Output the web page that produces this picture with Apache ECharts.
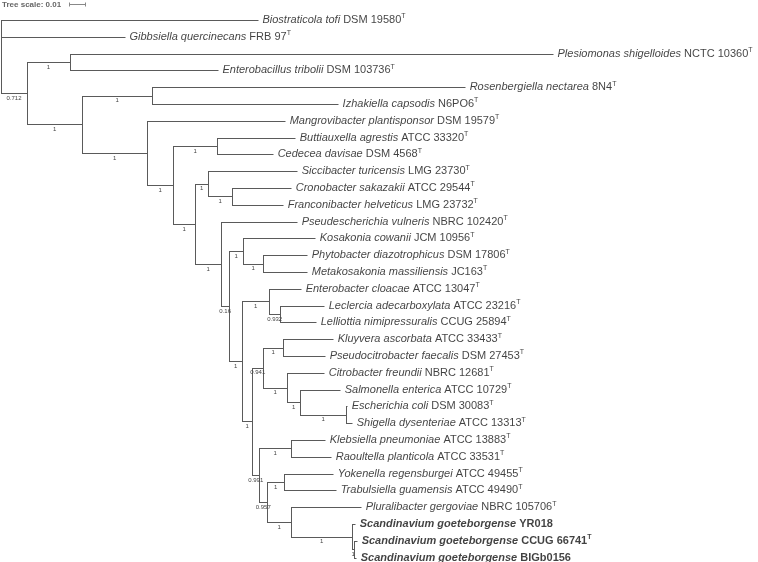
<!DOCTYPE html>
<html><head><meta charset="utf-8">
<script src="https://cdn.jsdelivr.net/npm/echarts@6/dist/echarts.min.js"></script>
<style>html,body{margin:0;padding:0;background:#fff}#c{width:758px;height:562px}</style>
</head><body><div id="c"></div>
<script>
// Tree topology (DFS order), branch lengths (substitutions/site) and support values
const nodeIds = ['root','bio','gib','A','B','ple','ebc','C','D','ros','izh','E','man','F','G','but','ced','H','I','sic','K','cro','fra','J','pse','L','M','kos','PM','phy','met','N','O','ent','LL','lec','lel','P','Q','Kl','klu','pct','Ci','cit','Sa','sal','Es','esc','shi','R','S','kle','rao','T','U','yok','tra','V','plu','W','yr','X','ccug','big'];
const nodeParents = [null,'root','root','root','A','B','B','A','C','D','D','C','E','E','F','G','G','F','H','I','I','K','K','H','J','J','L','M','M','PM','PM','L','N','O','O','LL','LL','N','P','Q','Kl','Kl','Q','Ci','Ci','Sa','Sa','Es','Es','P','R','S','S','R','T','U','U','T','V','V','W','W','X','X'];
const branchLengths = [0,0.1606,0.0775,0.0163,0.0268,0.3019,0.0925,0.0344,0.0438,0.1956,0.1162,0.0407,0.0862,0.0162,0.0275,0.0488,0.0350,0.0138,0.0081,0.0556,0.0150,0.0369,0.0319,0.0162,0.0475,0.0050,0.0088,0.0450,0.0125,0.0275,0.0275,0.0081,0.0169,0.0200,0.0069,0.0275,0.0225,0.0063,0.0069,0.0125,0.0312,0.0262,0.0150,0.0231,0.0081,0.0250,0.0287,0.0007,0.0038,0.0044,0.0200,0.0212,0.0250,0.0050,0.0106,0.0306,0.0325,0.0150,0.0437,0.0381,0.0019,0.0012,0.0019,0.0013];
const supportValues = [null,null,null,'0.712','1',null,null,'1','1',null,null,'1',null,'1','1',null,null,'1','1',null,'1',null,null,'1',null,'0.16','1',null,'1',null,null,'1','1',null,'0.932',null,null,'1','0.941','1',null,null,'1',null,'1',null,'1',null,null,'0.991','1',null,null,'0.957','1',null,null,'1',null,'1',null,'1',null,null];

// Leaf labels
const leafIds = ['bio','gib','ple','ebc','ros','izh','man','but','ced','sic','cro','fra','pse','kos','phy','met','ent','lec','lel','klu','pct','cit','sal','esc','shi','kle','rao','yok','tra','plu','yr','ccug','big'];
const leafSpecies = ['Biostraticola tofi','Gibbsiella quercinecans','Plesiomonas shigelloides','Enterobacillus tribolii','Rosenbergiella nectarea','Izhakiella capsodis','Mangrovibacter plantisponsor','Buttiauxella agrestis','Cedecea davisae','Siccibacter turicensis','Cronobacter sakazakii','Franconibacter helveticus','Pseudescherichia vulneris','Kosakonia cowanii','Phytobacter diazotrophicus','Metakosakonia massiliensis','Enterobacter cloacae','Leclercia adecarboxylata','Lelliottia nimipressuralis','Kluyvera ascorbata','Pseudocitrobacter faecalis','Citrobacter freundii','Salmonella enterica','Escherichia coli','Shigella dysenteriae','Klebsiella pneumoniae','Raoultella planticola','Yokenella regensburgei','Trabulsiella guamensis','Pluralibacter gergoviae','Scandinavium goeteborgense','Scandinavium goeteborgense','Scandinavium goeteborgense'];
const leafStrains = ['DSM 19580','FRB 97','NCTC 10360','DSM 103736','8N4','N6PO6','DSM 19579','ATCC 33320','DSM 4568','LMG 23730','ATCC 29544','LMG 23732','NBRC 102420','JCM 10956','DSM 17806','JC163','ATCC 13047','ATCC 23216','CCUG 25894','ATCC 33433','DSM 27453','NBRC 12681','ATCC 10729','DSM 30083','ATCC 13313','ATCC 13883','ATCC 33531','ATCC 49455','ATCC 49490','NBRC 105706','YR018','CCUG 66741','BIGb0156'];
const leafTypeStrain = [1,1,1,1,1,1,1,1,1,1,1,1,1,1,1,1,1,1,1,1,1,1,1,1,1,1,1,1,1,1,0,1,0];
const leafBold = [0,0,0,0,0,0,0,0,0,0,0,0,0,0,0,0,0,0,0,0,0,0,0,0,0,0,0,0,0,0,1,1,1];
const treeScale = 0.01;

// ---- layout from data ----
const n = nodeIds.length;
const idx = {}; nodeIds.forEach((id, i) => idx[id] = i);
const children = nodeIds.map(() => []);
nodeParents.forEach((p, i) => { if (p !== null) children[idx[p]].push(i); });
const xPos = new Array(n);
nodeIds.forEach((id, i) => { const p = nodeParents[i]; xPos[i] = p === null ? 0 : xPos[idx[p]] + branchLengths[i]; });
const yPos = new Array(n);
let leafCounter = 0;
(function assign(i) {
  const c = children[i];
  if (!c.length) { yPos[i] = leafCounter++; return; }
  c.forEach(assign);
  yPos[i] = (yPos[c[0]] + yPos[c[c.length - 1]]) / 2;
})(0);

const branchData = nodeIds.map((id, i) => {
  const p = nodeParents[i];
  const c = children[i];
  const px = p === null ? xPos[i] : xPos[idx[p]];
  const y0 = c.length ? yPos[c[0]] : yPos[i];
  const y1 = c.length ? yPos[c[c.length - 1]] : yPos[i];
  return [px, xPos[i], yPos[i], y0, y1];
});
const supportData = [];
nodeIds.forEach((id, i) => {
  if (supportValues[i] !== null) {
    const px = xPos[idx[nodeParents[i]]];
    supportData.push([(px + xPos[i]) / 2, yPos[i], supportValues[i]]);
  }
});
const FF = '"Liberation Sans", Arial, sans-serif';
const leafData = leafIds.map((id, k) => {
  const i = idx[id];
  const sp = leafBold[k] ? 'bi' : 'it';
  const st = leafBold[k] ? 'b' : 'n';
  let f = '{' + sp + '|' + leafSpecies[k] + '}{' + st + '| ' + leafStrains[k] + '}';
  if (leafTypeStrain[k]) f += '{' + (leafBold[k] ? 'supb' : 'sup') + '|T}';
  return { value: [xPos[i], yPos[i]], label: { formatter: f } };
});

const r = v => Math.round(v) + 0.5;
const lineStyle = { stroke: '#5a5a5a', lineWidth: 1 };

const chart = echarts.init(document.getElementById('c'), null, { renderer: 'canvas' });
chart.setOption({
  animation: false,
  backgroundColor: '#ffffff',
  grid: { left: 1, right: 1, top: 20, bottom: 4.4 },
  xAxis: { type: 'value', min: 0, max: 0.4725, show: false },
  yAxis: { type: 'value', min: 0, max: 32, inverse: true, show: false },
  series: [
    {
      type: 'custom', silent: true, data: branchData,
      renderItem: function (params, api) {
        const px = api.value(0), x = api.value(1), y = api.value(2), y0 = api.value(3), y1 = api.value(4);
        const a = api.coord([px, y]), b = api.coord([x, y]);
        const els = [];
        if (b[0] - a[0] > 0.01) els.push({ type: 'line', shape: { x1: r(a[0]) - 0.5, y1: r(a[1]), x2: r(b[0]), y2: r(b[1]) }, style: lineStyle });
        if (y1 > y0) {
          const c0 = api.coord([x, y0]), c1 = api.coord([x, y1]);
          els.push({ type: 'line', shape: { x1: r(c0[0]), y1: r(c0[1]), x2: r(c1[0]), y2: r(c1[1]) }, style: lineStyle });
        }
        return { type: 'group', children: els };
      }
    },
    {
      type: 'custom', silent: true, data: supportData,
      renderItem: function (params, api) {
        const p = api.coord([api.value(0), api.value(1)]);
        return { type: 'text', style: { text: supportData[params.dataIndex][2], x: p[0], y: p[1] + 5, align: 'center', verticalAlign: 'middle', fontSize: 6, fontFamily: FF, fill: '#444' } };
      }
    },
    {
      type: 'scatter', silent: true, symbolSize: 1, itemStyle: { color: 'rgba(0,0,0,0)' }, data: leafData,
      label: {
        show: true, position: 'right', distance: 4, color: '#111',
        rich: {
          it: { fontStyle: 'italic', fontSize: 11, lineHeight: 14, fontFamily: FF, color: '#111' },
          n: { fontSize: 11, lineHeight: 14, fontFamily: FF, color: '#111' },
          bi: { fontStyle: 'italic', fontWeight: 'bold', fontSize: 11, lineHeight: 14, fontFamily: FF, color: '#111' },
          b: { fontWeight: 'bold', fontSize: 11, lineHeight: 14, fontFamily: FF, color: '#111' },
          sup: { fontSize: 7, lineHeight: 9, verticalAlign: 'top', fontFamily: FF, color: '#111' },
          supb: { fontSize: 7, lineHeight: 9, verticalAlign: 'top', fontWeight: 'bold', fontFamily: FF, color: '#111' }
        }
      }
    },
    {
      type: 'custom', silent: true, data: [[treeScale]],
      renderItem: function (params, api) {
        const len = api.size([api.value(0), 0])[0];
        const x0 = 69.5, y = 4.5;
        return { type: 'group', children: [
          { type: 'text', style: { text: 'Tree scale: ' + treeScale, x: 2, y: 5, verticalAlign: 'middle', fontSize: 8, fontWeight: 'bold', fontFamily: FF, fill: '#666' } },
          { type: 'line', shape: { x1: x0, y1: y, x2: x0 + len, y2: y }, style: { stroke: '#888', lineWidth: 1 } },
          { type: 'line', shape: { x1: x0, y1: y - 2, x2: x0, y2: y + 2 }, style: { stroke: '#888', lineWidth: 1 } },
          { type: 'line', shape: { x1: x0 + len, y1: y - 2, x2: x0 + len, y2: y + 2 }, style: { stroke: '#888', lineWidth: 1 } }
        ] };
      }
    }
  ]
});
</script></body></html>
